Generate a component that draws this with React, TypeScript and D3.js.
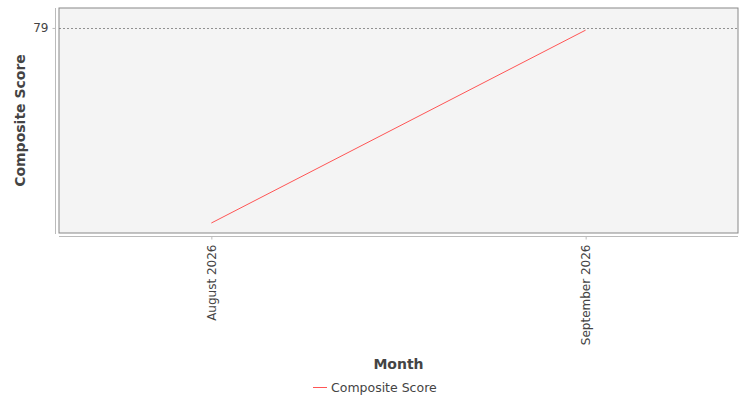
import { useRef, useEffect } from "react";
import * as d3 from "d3";

const months = ["August 2026", "September 2026"];
const scores = [78.1, 78.99];
const yTicks = [79];
const seriesName = "Composite Score";

const W = 750;
const H = 400;

const App = () => {
  const svgRef = useRef<SVGSVGElement>(null);

  useEffect(() => {
    if (!svgRef.current) return;
    const svg = d3.select(svgRef.current);
    svg.selectAll("*").remove();

    const plot = { left: 59, top: 8, right: 738, bottom: 233 };
    const font = "'DejaVu Sans', sans-serif";

    const xScale = d3
      .scalePoint<string>()
      .domain(months)
      .range([plot.left, plot.right])
      .padding(0.407);

    const yScale = d3
      .scaleLinear()
      .domain([78.054, 79.092])
      .range([plot.bottom, plot.top]);

    // Plot background
    svg
      .append("rect")
      .attr("x", plot.left)
      .attr("y", plot.top)
      .attr("width", plot.right - plot.left)
      .attr("height", plot.bottom - plot.top)
      .attr("fill", "#f4f4f4")
      .attr("stroke", "#888")
      .attr("stroke-width", 1);

    // Gridlines
    svg
      .selectAll(".grid")
      .data(yTicks)
      .enter()
      .append("line")
      .attr("x1", plot.left)
      .attr("x2", plot.right)
      .attr("y1", (d) => Math.round(yScale(d)) + 0.5)
      .attr("y2", (d) => Math.round(yScale(d)) + 0.5)
      .attr("stroke", "#777")
      .attr("stroke-width", 0.8)
      .attr("stroke-dasharray", "2,2");

    // Y axis
    const yAxis = d3
      .axisLeft(yScale)
      .tickValues(yTicks)
      .tickSize(3)
      .tickPadding(4)
      .tickFormat(d3.format("d"));
    const yG = svg
      .append("g")
      .attr("transform", `translate(${plot.left - 3.5},0)`)
      .call(yAxis);
    yG.select(".domain")
      .attr("d", `M0,${plot.top}V${plot.bottom + 1}`)
      .attr("stroke", "#bbb");
    yG.selectAll(".tick line").attr("stroke", "#bbb");
    yG.selectAll(".tick text")
      .attr("fill", "#444")
      .attr("font-family", font)
      .attr("font-size", 12);

    // X axis
    const xAxis = d3.axisBottom(xScale).tickSize(3).tickPadding(4);
    const xG = svg
      .append("g")
      .attr("transform", `translate(0,${plot.bottom + 3.5})`)
      .call(xAxis);
    xG.select(".domain")
      .attr("d", `M${plot.left},0H${plot.right}`)
      .attr("stroke", "#bbb");
    xG.selectAll(".tick line").attr("stroke", "#bbb");
    xG.selectAll(".tick text")
      .attr("fill", "#444")
      .attr("font-family", font)
      .attr("font-size", 12)
      .attr("text-anchor", "end")
      .attr("dy", "0.35em")
      .attr("transform", "translate(0,5) rotate(-90)")
      .attr("x", -3)
      .attr("y", 0);

    // Line
    const line = d3
      .line<number>()
      .x((_, i) => xScale(months[i]) ?? 0)
      .y((d) => yScale(d));
    svg
      .append("path")
      .datum(scores)
      .attr("d", line)
      .attr("fill", "none")
      .attr("stroke", "#ff5555")
      .attr("stroke-width", 1);

    // Axis labels
    svg
      .append("text")
      .attr("transform", `translate(25,${(plot.top + plot.bottom) / 2}) rotate(-90)`)
      .attr("text-anchor", "middle")
      .attr("font-family", font)
      .attr("font-size", 14)
      .attr("font-weight", "bold")
      .attr("fill", "#444")
      .text("Composite Score");

    svg
      .append("text")
      .attr("x", (plot.left + plot.right) / 2)
      .attr("y", 369)
      .attr("text-anchor", "middle")
      .attr("font-family", font)
      .attr("font-size", 14)
      .attr("font-weight", "bold")
      .attr("fill", "#444")
      .text("Month");

    // Legend
    const legend = svg.append("g").attr("transform", "translate(313,387)");
    legend
      .append("line")
      .attr("x1", 0)
      .attr("x2", 14)
      .attr("y1", 0.5)
      .attr("y2", 0.5)
      .attr("stroke", "#ff5555");
    legend
      .append("text")
      .attr("x", 18)
      .attr("y", 4.5)
      .attr("font-family", font)
      .attr("font-size", 12.5)
      .attr("fill", "#444")
      .text(seriesName);
  }, []);

  return (
    <svg
      ref={svgRef}
      width={W}
      height={H}
      style={{ position: "absolute", left: 0, top: 0, background: "#fff" }}
    />
  );
};

export default App;
